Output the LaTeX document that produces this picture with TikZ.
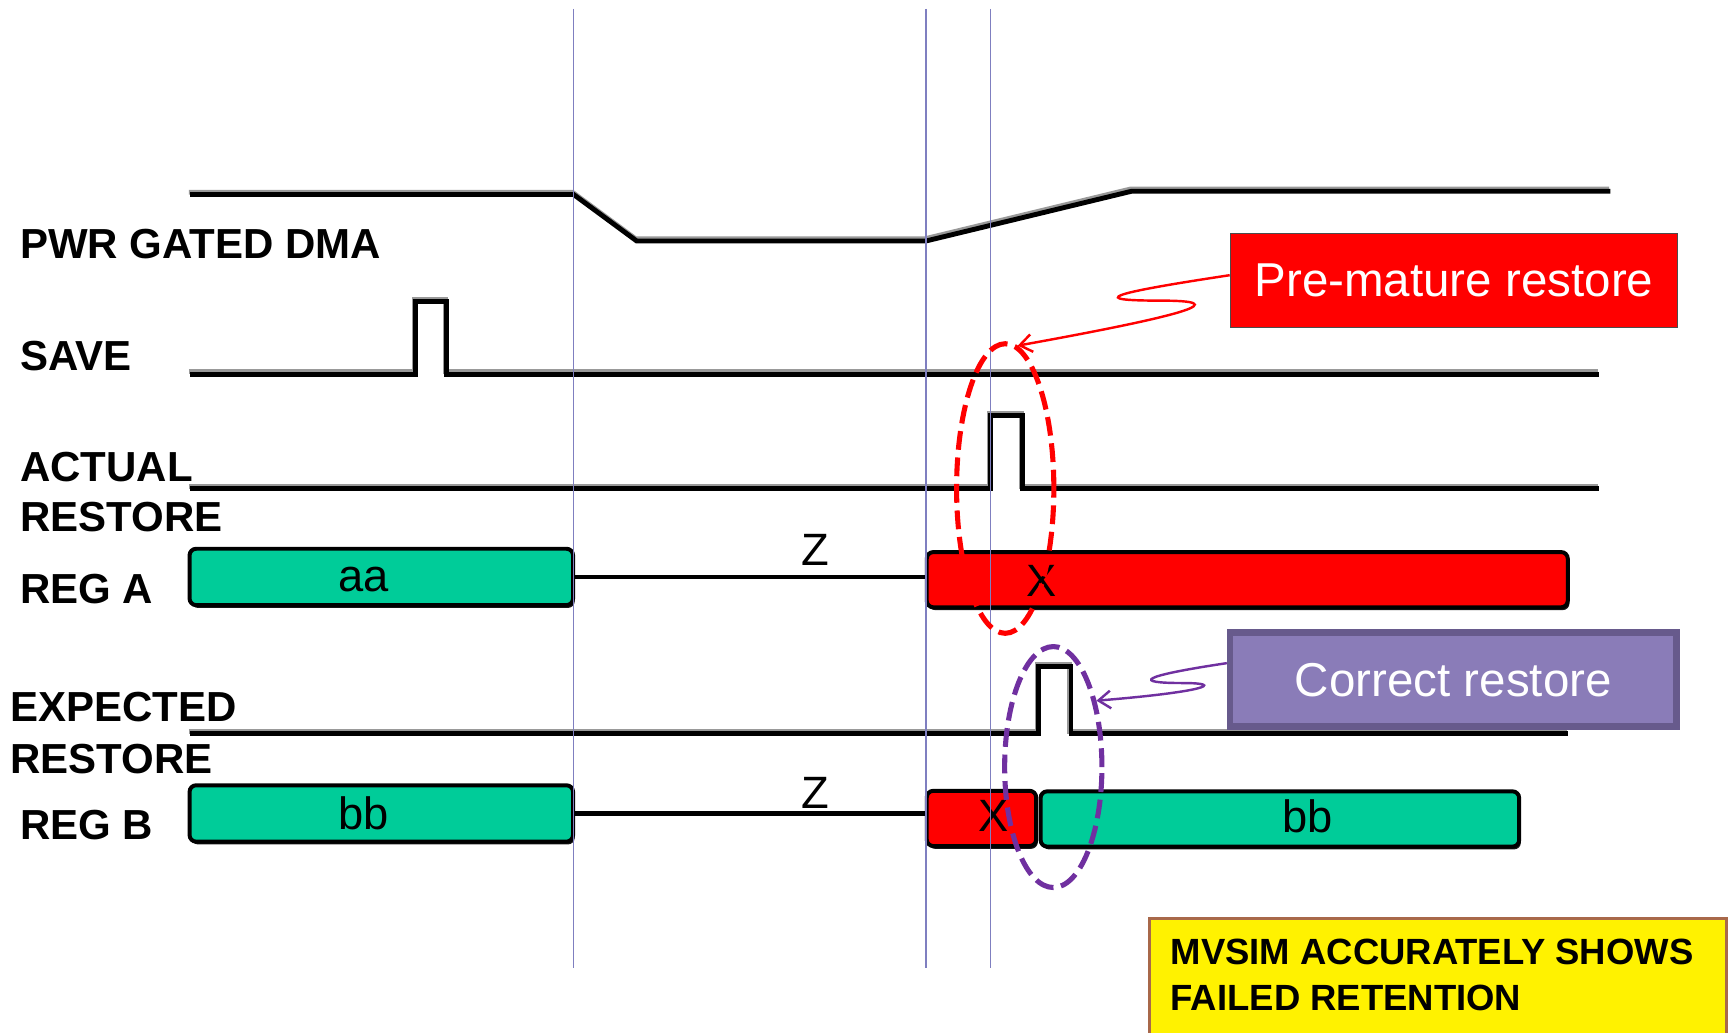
\documentclass[tikz,border=0pt]{standalone}
\usepackage{fontspec}
\setmainfont{Liberation Sans}
\usetikzlibrary{shapes.geometric,arrows.meta,shadows}
\definecolor{regteal}{HTML}{00CC99}
\definecolor{vline}{HTML}{7F7FC0}
\definecolor{crfill}{HTML}{8A7CB8}
\definecolor{crdraw}{HTML}{675A8C}
\definecolor{cpurple}{HTML}{7030A0}
\definecolor{ybord}{HTML}{A8684A}
\begin{document}
\begin{tikzpicture}[x=1pt,y=-1pt,
  lbl/.style={anchor=base west, font=\fontsize{38}{42}\selectfont\bfseries, inner sep=0},
  valtxt/.style={font=\fontsize{41}{44}\selectfont, inner sep=0, text=black},
  wave/.style={line width=4.4, black},
  waveshadow/.style={line width=4.4, black!40, shift={(-1,-2)}},
  regbox/.style={rectangle, rounded corners=6, draw=black, line width=3.6, inner sep=0,
    drop shadow={shadow xshift=1.5pt, shadow yshift=-2.5pt, fill=black, opacity=0.9}},
  greenbox/.style={regbox, fill=regteal},
  redbox/.style={regbox, fill=red},
  timeline/.style={vline, line width=1.3},
  callout/.style={rectangle, inner sep=0, text=white, font=\fontsize{43}{46}\selectfont},
  ringline/.style={ellipse, line width=4.6, dash pattern=on 17pt off 7pt, inner sep=0},
  pointer/.style={line width=2.2, -{Straight Barb[length=11pt,width=16pt]}}
]
\useasboundingbox (0,0) rectangle (1568,934);
\fill[white] (0,0) rectangle (1568,934);

% waveforms
\def\pwrpath{(172,176) -- (519,176) -- (576,218) -- (838,218) -- (1024,173) -- (1457,173)}
\def\savepath{(172,338.5) -- (376,338.5) -- (376,273) -- (404,273) -- (404,338.5) -- (1447,338.5)}
\def\actpath{(172,442) -- (896,442) -- (896,376) -- (925,376) -- (925,442) -- (1447,442)}
\def\exppath{(172,664) -- (940,664) -- (940,603) -- (969,603) -- (969,664) -- (1419,664)}
\draw[waveshadow] \pwrpath;
\draw[waveshadow] \savepath;
\draw[waveshadow] \actpath;
\draw[waveshadow] \exppath;
\draw[wave] \pwrpath;
\draw[wave] \savepath;
\draw[wave] \actpath;
\draw[wave] \exppath;

% labels
\node[lbl] (lpwr) at (18,233.5) {PWR GATED DMA};
\node[lbl] (lsave) at (18,335) {SAVE};
\node[lbl] (lact1) at (18,436) {ACTUAL};
\node[lbl] (lact2) at (18,481) {RESTORE};
\node[lbl] (lrega) at (18,546) {REG A};
\node[lbl] (lexp1) at (9,653) {EXPECTED};
\node[lbl] (lexp2) at (9,700) {RESTORE};
\node[lbl] (lregb) at (18,760) {REG B};

% register A
\node[greenbox, minimum width=347, minimum height=51] (rega1) at (345,522) {};
\node[redbox, minimum width=580, minimum height=50] (rega2) at (1128.5,524.5) {};
\draw[wave] (rega1.east) -- (rega1.east -| rega2.west);
\node[valtxt] (taa) at (329,524) {aa};
\node[valtxt] (tza) at (738,498) {Z};
\node[valtxt] (txa) at (942,526) {X};

% register B
\node[greenbox, minimum width=347, minimum height=51] (regb1) at (345,736) {};
\node[redbox, minimum width=99, minimum height=50] (regb2) at (888,740.5) {};
\node[greenbox, minimum width=433, minimum height=50] (regb3) at (1158,741) {};
\draw[wave] (regb1.east) -- (regb1.east -| regb2.west);
\node[valtxt] (tbb1) at (329,736) {bb};
\node[valtxt] (tzb) at (738,717) {Z};
\node[valtxt] (txb) at (899,738) {X};
\node[valtxt] (tbb2) at (1183,739) {bb};

% time markers
\coordinate (v1t) at (519,8);   \coordinate (v1b) at (519,876);
\coordinate (v2t) at (838,8);   \coordinate (v2b) at (838,876);
\coordinate (v3t) at (896,8);   \coordinate (v3b) at (896,876);
\draw[timeline] (v1t) -- (v1b);
\draw[timeline] (v2t) -- (v2b);
\draw[timeline] (v3t) -- (v3b);

% rings
\node[ringline, draw=red, minimum width=88, minimum height=262] (e1) at (909.5,442) {};
\node[ringline, draw=cpurple, minimum width=88, minimum height=218] (e2) at (953,694) {};

% callouts
\node[callout, fill=red, draw=black!70, line width=0.8, minimum width=405, minimum height=85] (pm) at (1315.5,253.5) {Pre-mature restore};
\node[callout, fill=crfill, draw=crdraw, line width=6, minimum width=404, minimum height=85] (cr) at (1315,615) {Correct restore};

\draw[pointer, red] ([yshift=4.5pt]pm.west) .. controls (1000,266) and (985,272) .. (1050,272)
   .. controls (1115,272) and (1080,284) .. (e1.85);
\draw[pointer, cpurple] ([yshift=15pt]cr.west) .. controls (1030,612) and (1025,618) .. (1070,618)
   .. controls (1110,618) and (1090,626) .. (e2.57);

% conclusion box
\node[rectangle, fill=yellow, draw=ybord, line width=2.5, inner sep=0, minimum width=522, minimum height=108, anchor=north west] (msg) at (1039,830) {};
\node[anchor=base west, inner sep=0, font=\fontsize{33}{36}\selectfont\bfseries] (msg1) at (1059,873) {MVSIM ACCURATELY SHOWS};
\node[anchor=base west, inner sep=0, font=\fontsize{33}{36}\selectfont\bfseries] (msg2) at (1059,914) {FAILED RETENTION};
\end{tikzpicture}
\end{document}
